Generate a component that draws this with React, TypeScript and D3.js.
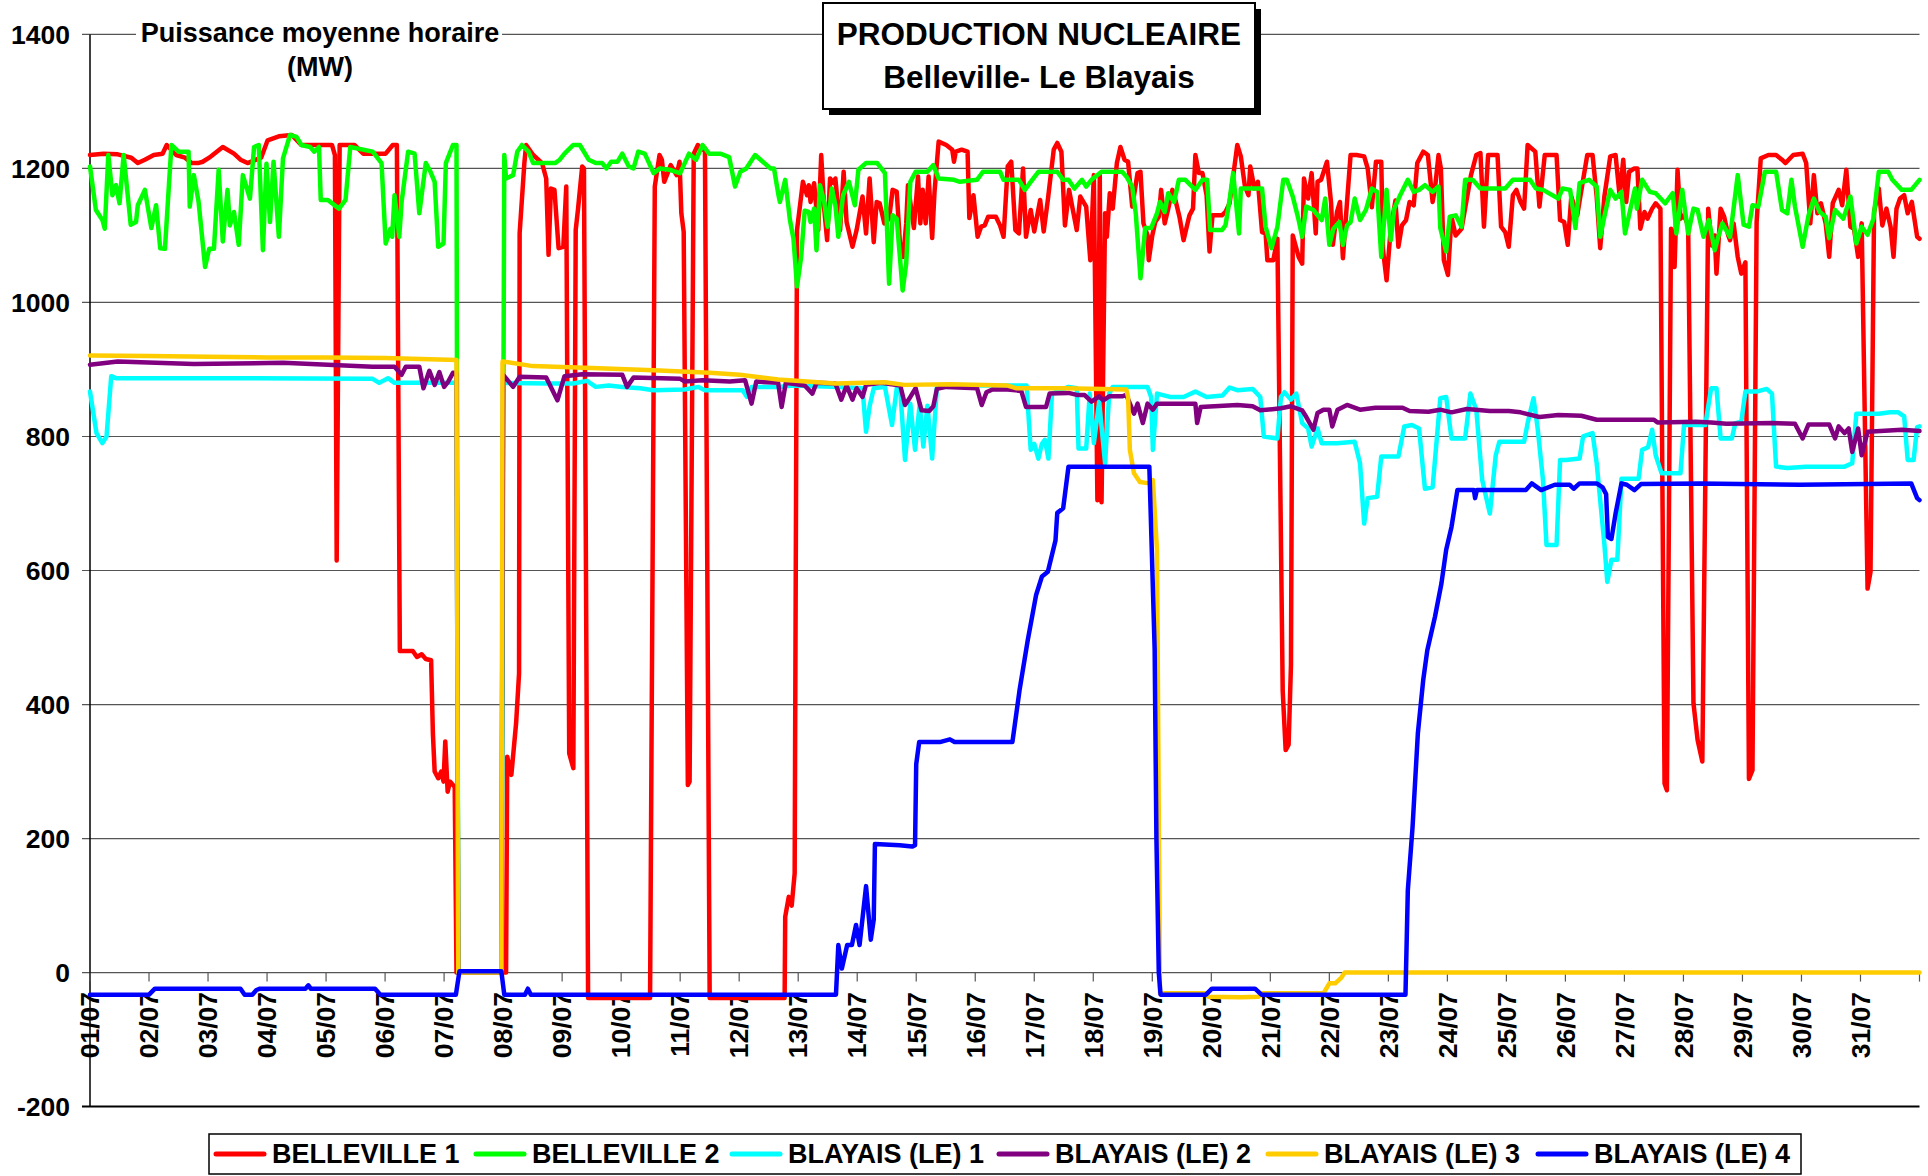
import React from "react";
import * as d3 from "d3";

type Pt = [number, number];

const dayLabels = ["01/07","02/07","03/07","04/07","05/07","06/07","07/07","08/07","09/07","10/07","11/07","12/07","13/07","14/07","15/07","16/07","17/07","18/07","19/07","20/07","21/07","22/07","23/07","24/07","25/07","26/07","27/07","28/07","29/07","30/07","31/07"];
const yTickValues = [1400, 1200, 1000, 800, 600, 400, 200, 0, -200];

const belleville1: Pt[] = [[0,1220],[0.23,1222],[0.47,1221],[0.7,1216],[0.81,1208],[0.93,1213],[1.08,1220],[1.23,1222],[1.3,1235],[1.46,1220],[1.61,1216],[1.72,1208],[1.83,1208],[1.91,1210],[2.02,1216],[2.25,1232],[2.44,1222],[2.55,1213],[2.67,1208],[2.9,1216],[3.01,1242],[3.2,1248],[3.42,1250],[3.58,1235],[4.1,1235],[4.15,1220],[4.18,615],[4.23,1235],[4.48,1235],[4.63,1222],[5.01,1222],[5.13,1235],[5.2,1235],[5.25,480],[5.47,480],[5.54,471],[5.62,475],[5.69,468],[5.78,466],[5.81,357],[5.84,300],[5.9,290],[5.95,300],[5.99,285],[6.02,345],[6.06,270],[6.1,285],[6.18,277],[6.21,0],[7.05,0],[7.07,322],[7.14,295],[7.22,372],[7.27,446],[7.28,1103],[7.36,1208],[7.39,1235],[7.51,1220],[7.66,1208],[7.73,1185],[7.77,1071],[7.81,1170],[7.87,1168],[7.94,1081],[8.02,1083],[8.07,1173],[8.12,327],[8.19,305],[8.23,1108],[8.27,1140],[8.34,1203],[8.37,1200],[8.44,-38],[9.49,-38],[9.57,1173],[9.65,1220],[9.69,1213],[9.73,1180],[9.84,1205],[9.94,1190],[9.99,1210],[10.02,1133],[10.06,1105],[10.13,280],[10.16,285],[10.23,1222],[10.3,1235],[10.37,1228],[10.42,1230],[10.5,-38],[11.77,-38],[11.78,83],[11.84,113],[11.89,100],[11.94,148],[11.98,1108],[12.08,1180],[12.15,1160],[12.18,1175],[12.21,1150],[12.27,1178],[12.34,1108],[12.39,1220],[12.44,1140],[12.49,1093],[12.54,1185],[12.6,1178],[12.63,1185],[12.71,1108],[12.77,1195],[12.82,1120],[12.92,1083],[12.99,1108],[13.09,1158],[13.15,1103],[13.21,1185],[13.28,1090],[13.33,1150],[13.38,1148],[13.46,1118],[13.54,1125],[13.6,1168],[13.67,1165],[13.73,1080],[13.78,1068],[13.83,1118],[13.86,1175],[13.96,1111],[14.03,1188],[14.07,1118],[14.11,1168],[14.16,1118],[14.21,1188],[14.27,1096],[14.31,1165],[14.38,1240],[14.51,1235],[14.61,1228],[14.64,1210],[14.67,1225],[14.77,1228],[14.87,1225],[14.9,1126],[14.97,1160],[15.04,1098],[15.1,1113],[15.16,1115],[15.22,1128],[15.35,1128],[15.42,1115],[15.48,1098],[15.55,1203],[15.61,1210],[15.68,1108],[15.74,1103],[15.81,1200],[15.86,1098],[15.94,1138],[16.0,1106],[16.1,1153],[16.16,1106],[16.23,1153],[16.33,1228],[16.39,1238],[16.46,1225],[16.52,1115],[16.59,1168],[16.65,1140],[16.72,1108],[16.78,1158],[16.88,1143],[16.95,1063],[17.01,1190],[17.07,705],[17.11,1190],[17.14,702],[17.2,1133],[17.23,1098],[17.28,1163],[17.33,1140],[17.4,1208],[17.46,1232],[17.53,1213],[17.59,1210],[17.66,1143],[17.75,1193],[17.8,1195],[17.85,1118],[17.92,1100],[17.94,1063],[18.0,1100],[18.05,1120],[18.11,1128],[18.15,1168],[18.21,1118],[18.27,1140],[18.34,1168],[18.4,1150],[18.46,1128],[18.53,1093],[18.63,1130],[18.69,1140],[18.73,1220],[18.79,1193],[18.85,1193],[18.92,1160],[18.97,1076],[19.02,1130],[19.18,1130],[19.24,1135],[19.31,1148],[19.37,1188],[19.44,1235],[19.5,1218],[19.57,1173],[19.63,1160],[19.66,1203],[19.73,1170],[19.79,1180],[19.86,1105],[19.92,1103],[19.95,1063],[20.05,1063],[20.12,1095],[20.21,420],[20.26,332],[20.31,340],[20.35,460],[20.38,1100],[20.48,1068],[20.54,1058],[20.57,1185],[20.64,1155],[20.7,1193],[20.77,1103],[20.8,1180],[20.86,1183],[20.96,1210],[21.03,1148],[21.06,1086],[21.13,1135],[21.18,1150],[21.23,1066],[21.3,1150],[21.36,1220],[21.46,1220],[21.59,1218],[21.65,1200],[21.72,1142],[21.79,1210],[21.88,1210],[21.91,1078],[21.97,1033],[22.04,1110],[22.12,1152],[22.17,1083],[22.23,1115],[22.3,1123],[22.36,1150],[22.43,1145],[22.49,1208],[22.59,1225],[22.67,1220],[22.75,1150],[22.79,1170],[22.85,1220],[22.89,1200],[22.94,1063],[23.01,1041],[23.07,1128],[23.14,1100],[23.24,1110],[23.3,1140],[23.4,1190],[23.49,1220],[23.56,1223],[23.62,1113],[23.69,1220],[23.85,1220],[23.91,1113],[23.98,1105],[24.04,1083],[24.11,1160],[24.17,1168],[24.24,1150],[24.3,1140],[24.36,1235],[24.49,1225],[24.56,1143],[24.65,1220],[24.85,1220],[24.91,1123],[24.98,1120],[25.04,1086],[25.1,1158],[25.2,1130],[25.3,1183],[25.37,1220],[25.46,1220],[25.53,1158],[25.59,1081],[25.66,1158],[25.76,1218],[25.85,1220],[25.92,1158],[25.98,1213],[26.03,1150],[26.08,1195],[26.17,1200],[26.22,1200],[26.27,1110],[26.34,1135],[26.39,1125],[26.47,1140],[26.53,1148],[26.61,1140],[26.68,282],[26.72,272],[26.79,1110],[26.85,1053],[26.9,1198],[26.95,1125],[27.01,1130],[27.08,1115],[27.17,402],[27.24,347],[27.32,315],[27.42,1140],[27.48,1085],[27.53,1100],[27.56,1043],[27.63,1140],[27.69,1128],[27.76,1100],[27.79,1093],[27.85,1118],[27.92,1068],[27.98,1043],[28.05,1060],[28.11,289],[28.17,302],[28.24,1120],[28.31,1215],[28.44,1220],[28.57,1220],[28.67,1213],[28.73,1208],[28.86,1220],[29.02,1222],[29.08,1208],[29.15,1118],[29.21,1190],[29.27,1133],[29.33,1148],[29.41,1118],[29.47,1068],[29.53,1148],[29.63,1168],[29.69,1145],[29.76,1198],[29.83,1113],[29.89,1110],[29.96,1068],[30.02,1118],[30.12,573],[30.17,598],[30.23,1135],[30.31,1170],[30.37,1115],[30.44,1140],[30.51,1113],[30.56,1068],[30.61,1140],[30.67,1155],[30.74,1160],[30.8,1133],[30.87,1150],[30.96,1098],[31,1095]];

const belleville2: Pt[] = [[0,1203],[0.1,1138],[0.21,1123],[0.25,1110],[0.31,1220],[0.38,1160],[0.44,1175],[0.5,1148],[0.57,1220],[0.69,1116],[0.78,1120],[0.81,1145],[0.93,1168],[1.04,1111],[1.12,1145],[1.19,1081],[1.27,1080],[1.38,1235],[1.5,1225],[1.67,1225],[1.69,1143],[1.76,1190],[1.84,1150],[1.95,1053],[2.02,1080],[2.1,1080],[2.18,1198],[2.25,1091],[2.33,1168],[2.37,1115],[2.44,1135],[2.52,1086],[2.59,1190],[2.71,1155],[2.78,1232],[2.86,1235],[2.93,1078],[2.99,1207],[3.05,1120],[3.11,1210],[3.2,1098],[3.27,1215],[3.39,1250],[3.5,1247],[3.58,1235],[3.73,1232],[3.8,1225],[3.88,1232],[3.91,1153],[4.03,1153],[4.22,1140],[4.33,1153],[4.41,1232],[4.79,1225],[4.94,1208],[5.01,1088],[5.09,1110],[5.12,1098],[5.16,1160],[5.24,1098],[5.28,1150],[5.39,1225],[5.5,1222],[5.58,1133],[5.69,1208],[5.77,1195],[5.84,1180],[5.9,1083],[5.99,1088],[6.03,1208],[6.15,1235],[6.21,1235],[6.24,0],[6.97,0],[7.02,1220],[7.05,1185],[7.17,1190],[7.24,1225],[7.32,1235],[7.43,1225],[7.51,1208],[7.62,1208],[7.88,1208],[7.96,1213],[8.04,1222],[8.19,1235],[8.3,1235],[8.45,1213],[8.57,1208],[8.68,1208],[8.75,1200],[8.83,1210],[8.94,1210],[9.02,1222],[9.13,1203],[9.21,1200],[9.29,1225],[9.4,1222],[9.55,1193],[9.66,1200],[9.82,1198],[9.93,1195],[10.0,1193],[10.15,1222],[10.27,1213],[10.38,1235],[10.49,1222],[10.68,1222],[10.83,1217],[10.93,1173],[11.02,1195],[11.12,1200],[11.27,1220],[11.4,1210],[11.53,1200],[11.59,1200],[11.66,1163],[11.69,1150],[11.78,1183],[11.86,1123],[11.92,1095],[11.98,1024],[12.05,1068],[12.11,1137],[12.18,1135],[12.21,1120],[12.27,1140],[12.31,1078],[12.37,1175],[12.44,1150],[12.5,1113],[12.57,1170],[12.63,1145],[12.68,1098],[12.76,1160],[12.86,1180],[12.96,1145],[13.02,1198],[13.15,1208],[13.34,1208],[13.47,1193],[13.54,1028],[13.6,1130],[13.67,1125],[13.77,1018],[13.83,1058],[13.9,1180],[13.99,1195],[14.19,1195],[14.29,1205],[14.38,1185],[14.64,1183],[14.74,1180],[15.03,1183],[15.13,1195],[15.42,1195],[15.48,1183],[15.74,1183],[15.84,1168],[15.94,1180],[16.07,1195],[16.39,1195],[16.49,1183],[16.58,1183],[16.68,1170],[16.81,1183],[16.88,1173],[16.97,1183],[17.14,1195],[17.49,1195],[17.56,1188],[17.66,1173],[17.72,1133],[17.8,1036],[17.88,1111],[17.98,1111],[18.08,1133],[18.13,1150],[18.21,1135],[18.27,1163],[18.37,1150],[18.45,1183],[18.56,1183],[18.73,1168],[18.85,1183],[18.93,1183],[18.98,1108],[19.18,1108],[19.24,1115],[19.31,1153],[19.37,1193],[19.47,1103],[19.5,1170],[19.86,1170],[19.92,1113],[20.02,1081],[20.12,1113],[20.22,1183],[20.28,1183],[20.38,1158],[20.48,1123],[20.54,1098],[20.61,1143],[20.73,1138],[20.87,1123],[20.93,1155],[21.0,1086],[21.07,1110],[21.17,1120],[21.23,1086],[21.3,1115],[21.36,1120],[21.43,1155],[21.52,1123],[21.62,1138],[21.72,1170],[21.81,1165],[21.88,1068],[21.97,1168],[22.04,1093],[22.1,1140],[22.2,1160],[22.33,1183],[22.43,1165],[22.52,1168],[22.62,1175],[22.75,1165],[22.85,1173],[22.88,1111],[22.98,1076],[23.04,1128],[23.14,1130],[23.24,1113],[23.3,1183],[23.43,1183],[23.56,1170],[23.98,1170],[24.11,1183],[24.4,1183],[24.5,1170],[24.62,1168],[24.88,1155],[24.95,1170],[25.08,1168],[25.17,1111],[25.24,1178],[25.4,1183],[25.53,1173],[25.59,1098],[25.66,1128],[25.76,1168],[25.85,1155],[25.95,1165],[26.01,1103],[26.11,1143],[26.18,1170],[26.21,1140],[26.3,1183],[26.43,1165],[26.53,1163],[26.69,1148],[26.82,1163],[26.88,1103],[26.98,1168],[27.08,1103],[27.17,1140],[27.24,1138],[27.34,1098],[27.43,1123],[27.53,1078],[27.59,1098],[27.66,1118],[27.79,1098],[27.92,1190],[28.02,1116],[28.11,1113],[28.17,1145],[28.27,1143],[28.38,1195],[28.57,1195],[28.67,1138],[28.76,1133],[28.83,1183],[28.89,1143],[29.02,1083],[29.12,1130],[29.21,1155],[29.31,1135],[29.41,1128],[29.47,1096],[29.57,1138],[29.71,1125],[29.83,1158],[29.93,1088],[30.02,1113],[30.12,1101],[30.22,1125],[30.31,1195],[30.47,1195],[30.54,1183],[30.7,1168],[30.86,1168],[31,1183]];

const blayais1: Pt[] = [[0,867],[0.11,805],[0.21,790],[0.28,800],[0.36,890],[0.44,887],[2.52,887],[4.79,886],[4.9,880],[5.05,887],[5.16,880],[5.39,880],[6.15,880],[6.21,880],[6.24,0],[6.97,0],[7.0,880],[7.81,879],[8.19,879],[8.42,883],[8.57,874],[8.79,876],[9.02,874],[9.32,872],[9.55,869],[10.08,870],[10.31,874],[10.42,869],[11.06,869],[11.13,859],[11.21,874],[11.66,874],[11.92,876],[12.7,874],[13.09,872],[13.15,807],[13.21,845],[13.28,872],[13.47,874],[13.59,817],[13.67,872],[13.73,869],[13.81,765],[13.9,849],[13.98,780],[14.06,849],[14.12,785],[14.19,846],[14.27,767],[14.35,874],[14.51,876],[15.87,876],[15.94,780],[16.0,789],[16.07,767],[16.13,789],[16.18,795],[16.24,767],[16.3,864],[16.58,874],[16.72,872],[16.75,782],[16.88,782],[16.94,864],[17.01,790],[17.1,852],[17.2,760],[17.27,864],[17.33,874],[17.92,874],[17.98,859],[18.01,780],[18.08,864],[18.3,859],[18.53,859],[18.73,867],[18.92,859],[19.19,861],[19.31,873],[19.44,869],[19.7,871],[19.83,859],[19.89,800],[20.12,797],[20.18,859],[20.24,866],[20.35,855],[20.44,864],[20.54,820],[20.64,812],[20.7,785],[20.8,812],[20.87,790],[21.13,790],[21.43,792],[21.52,760],[21.59,670],[21.65,708],[21.81,710],[21.88,770],[22.17,770],[22.27,815],[22.4,817],[22.52,812],[22.62,722],[22.75,724],[22.88,857],[22.98,859],[23.07,797],[23.3,797],[23.39,864],[23.49,840],[23.59,735],[23.72,685],[23.82,772],[23.88,792],[24.3,792],[24.36,820],[24.46,857],[24.53,812],[24.62,735],[24.68,638],[24.85,638],[24.91,765],[25.01,765],[25.24,767],[25.3,800],[25.46,805],[25.53,760],[25.66,640],[25.71,583],[25.78,616],[25.88,616],[25.95,737],[26.24,737],[26.3,780],[26.4,784],[26.47,810],[26.53,772],[26.63,745],[26.95,745],[27.01,817],[27.37,817],[27.47,872],[27.56,872],[27.63,797],[27.82,797],[27.88,820],[27.98,822],[28.05,867],[28.24,867],[28.41,871],[28.5,864],[28.57,755],[28.76,753],[29.08,755],[29.73,755],[29.86,760],[29.93,834],[30.05,834],[30.31,834],[30.5,836],[30.64,836],[30.74,830],[30.8,765],[30.9,765],[30.96,814],[31,815]];

const blayais2: Pt[] = [[0,907],[0.47,912],[1.76,908],[3.27,910],[4.79,904],[5.16,904],[5.28,892],[5.35,904],[5.58,904],[5.65,872],[5.75,898],[5.84,877],[5.92,896],[6.0,874],[6.07,882],[6.15,895],[6.21,894],[6.24,0],[6.97,0],[7.0,892],[7.17,874],[7.28,889],[7.73,888],[7.92,854],[8.04,890],[8.34,893],[9.02,892],[9.1,874],[9.21,888],[10.0,886],[10.08,882],[10.38,884],[10.84,882],[11.1,884],[11.21,849],[11.29,882],[11.66,880],[11.72,844],[11.79,880],[12.11,876],[12.24,864],[12.31,880],[12.63,879],[12.73,855],[12.82,876],[12.92,855],[12.99,872],[13.09,859],[13.15,877],[13.41,880],[13.73,876],[13.81,847],[13.9,859],[13.99,872],[14.09,839],[14.22,838],[14.29,845],[14.35,871],[14.51,874],[15.03,872],[15.11,847],[15.19,866],[15.29,870],[15.55,870],[15.78,868],[15.86,844],[16.2,844],[16.26,864],[16.58,865],[16.72,862],[16.85,862],[16.97,852],[17.1,860],[17.17,854],[17.27,860],[17.49,860],[17.56,862],[17.69,834],[17.75,849],[17.84,820],[17.92,849],[18.01,840],[18.08,849],[18.34,849],[18.73,849],[18.76,820],[18.82,844],[19.44,847],[19.7,845],[19.83,839],[20.18,842],[20.35,845],[20.54,839],[20.61,829],[20.73,810],[20.8,835],[20.9,840],[21.0,840],[21.05,815],[21.14,840],[21.3,847],[21.52,840],[21.78,843],[22.24,843],[22.36,838],[22.68,837],[22.88,840],[23.07,836],[23.33,841],[23.72,838],[24.04,838],[24.24,836],[24.56,829],[24.88,832],[25.27,831],[25.53,825],[26.5,825],[26.56,821],[27.21,822],[27.47,821],[27.73,819],[28.5,820],[28.89,819],[29.02,797],[29.12,818],[29.47,818],[29.57,797],[29.63,815],[29.73,805],[29.8,812],[29.86,777],[29.96,812],[30.02,772],[30.12,807],[30.7,810],[31,808]];

const blayais3: Pt[] = [[0,921],[1,920],[2,919],[3,918],[4,918],[5,917],[6.21,914],[6.24,0],[6.97,0],[6.99,912],[7.5,905],[8.5,902],[9.55,899],[10.5,895],[11.01,892],[11.66,885],[12.63,879],[13.47,881],[13.8,877],[14.57,878],[15.55,876],[15.69,872],[16.53,872],[17.56,870],[17.59,859],[17.62,780],[17.69,745],[17.79,732],[17.95,730],[18.01,735],[18.08,630],[18.13,-31],[18.9,-31],[18.95,-36],[19.5,-37],[19.8,-36],[19.85,-31],[20.9,-31],[21.0,-16],[21.1,-16],[21.2,-8],[21.26,0],[31,0]];

const blayais4: Pt[] = [[0,-33],[1.0,-33],[1.1,-24],[2.55,-24],[2.62,-33],[2.75,-33],[2.82,-26],[2.88,-24],[3.65,-24],[3.7,-19],[3.74,-24],[4.83,-24],[4.92,-33],[6.2,-33],[6.26,2],[6.97,2],[7.02,-33],[7.37,-33],[7.42,-24],[7.47,-33],[12.64,-33],[12.68,41],[12.74,6],[12.83,41],[12.91,41],[12.98,71],[13.04,41],[13.15,129],[13.23,49],[13.28,79],[13.3,192],[13.72,190],[13.93,188],[13.98,190],[14.0,311],[14.05,344],[14.4,344],[14.57,348],[14.65,344],[15.63,344],[15.75,421],[15.89,496],[16.03,563],[16.13,591],[16.23,598],[16.36,645],[16.39,686],[16.49,693],[16.58,755],[17.95,755],[18.04,483],[18.07,200],[18.11,0],[18.14,-33],[18.91,-33],[19.01,-24],[19.74,-24],[19.85,-33],[22.29,-33],[22.33,123],[22.41,217],[22.5,357],[22.59,436],[22.66,481],[22.79,531],[22.9,581],[22.98,631],[23.07,665],[23.17,720],[23.45,720],[23.47,708],[23.5,720],[24.33,720],[24.43,730],[24.59,720],[24.82,728],[25.07,728],[25.14,722],[25.24,730],[25.53,730],[25.63,724],[25.69,714],[25.72,650],[25.78,647],[25.85,685],[25.95,730],[26.04,728],[26.17,720],[26.28,729],[27.27,730],[28.97,728],[30.86,730],[30.96,708],[31,705]];

const seriesNames = ["BELLEVILLE 1", "BELLEVILLE 2", "BLAYAIS (LE) 1", "BLAYAIS (LE) 2", "BLAYAIS (LE) 3", "BLAYAIS (LE) 4"];
const seriesData = [belleville1, belleville2, blayais1, blayais2, blayais3, blayais4];
const seriesColors = ["#FF0000", "#00FF00", "#00FFFF", "#800080", "#FFCC00", "#0000FF"];

// layout (pixel positions of legend entries)
const legendStartX = [213, 473, 729, 996, 1265, 1535];

const FONT = "'Liberation Sans', Arial, Helvetica, sans-serif";
const W = 1928, H = 1176;
const PL = 90, PR = 1919.5, PT = 34.4, PB = 1106.6;

export default function App() {
  const x = d3.scaleLinear().domain([0, 31]).range([PL, PR]);
  const y = d3.scaleLinear().domain([-200, 1400]).range([PB, PT]);
  const line = d3.line<Pt>().x((d) => x(d[0])).y((d) => y(d[1]));

  const y0 = y(0);
  const dayTicks = d3.range(0, 32);

  return (
    <svg width={W} height={H} style={{ position: "absolute", left: 0, top: 0, display: "block", background: "#fff" }} fontFamily={FONT}>
      <rect x={0} y={0} width={W} height={H} fill="#fff" />
      {yTickValues.map((v) => (
        <line key={"g" + v} x1={PL - 8} x2={PR} y1={y(v)} y2={y(v)} stroke={v === -200 ? "#000" : "#555"} strokeWidth={v === -200 ? 2 : 1.2} />
      ))}
      <line x1={PL} x2={PL} y1={PT} y2={PB} stroke="#000" strokeWidth={1.5} />
      {yTickValues.map((v) => (
        <text key={"yl" + v} x={70} y={y(v)} dy="0.35em" textAnchor="end" fontSize={26.5} fontWeight="bold" fill="#000">{v}</text>
      ))}
      {dayTicks.map((d) => (
        <line key={"xt" + d} x1={x(d)} x2={x(d)} y1={y0} y2={y0 + 9} stroke="#555" strokeWidth={1.2} />
      ))}
      {dayLabels.map((lab, i) => (
        <text key={"xl" + i} transform={`translate(${x(i)},${992}) rotate(-90)`} dy="0.35em" textAnchor="end" fontSize={26.5} fontWeight="bold" fill="#000">{lab}</text>
      ))}
      {seriesData.map((data, i) => (
        <path key={"s" + i} d={line(data) || ""} fill="none" stroke={seriesColors[i]} strokeWidth={4.5} strokeLinejoin="round" strokeLinecap="round" />
      ))}
      <rect x={136} y={12} width={366} height={74} fill="#fff" />
      <text x={320} y={42} textAnchor="middle" fontSize={27} fontWeight="bold">Puissance moyenne horaire</text>
      <text x={320} y={76} textAnchor="middle" fontSize={27} fontWeight="bold">(MW)</text>
      <rect x={829} y={9} width={432} height={106} fill="#000" />
      <rect x={823} y={3} width={432} height={106} fill="#fff" stroke="#000" strokeWidth={2} />
      <text x={1039} y={45} textAnchor="middle" fontSize={31.5} fontWeight="bold">PRODUCTION NUCLEAIRE</text>
      <text x={1039} y={88} textAnchor="middle" fontSize={31.5} fontWeight="bold">Belleville- Le Blayais</text>
      <rect x={209} y={1134} width={1592} height={40} fill="#fff" stroke="#000" strokeWidth={1.5} />
      {seriesNames.map((n, i) => (
        <g key={"lg" + i}>
          <line x1={legendStartX[i] + 3} x2={legendStartX[i] + 51} y1={1154} y2={1154} stroke={seriesColors[i]} strokeWidth={5} strokeLinecap="round" />
          <text x={legendStartX[i] + 59} y={1163} fontSize={27} fontWeight="bold">{n}</text>
        </g>
      ))}
    </svg>
  );
}
